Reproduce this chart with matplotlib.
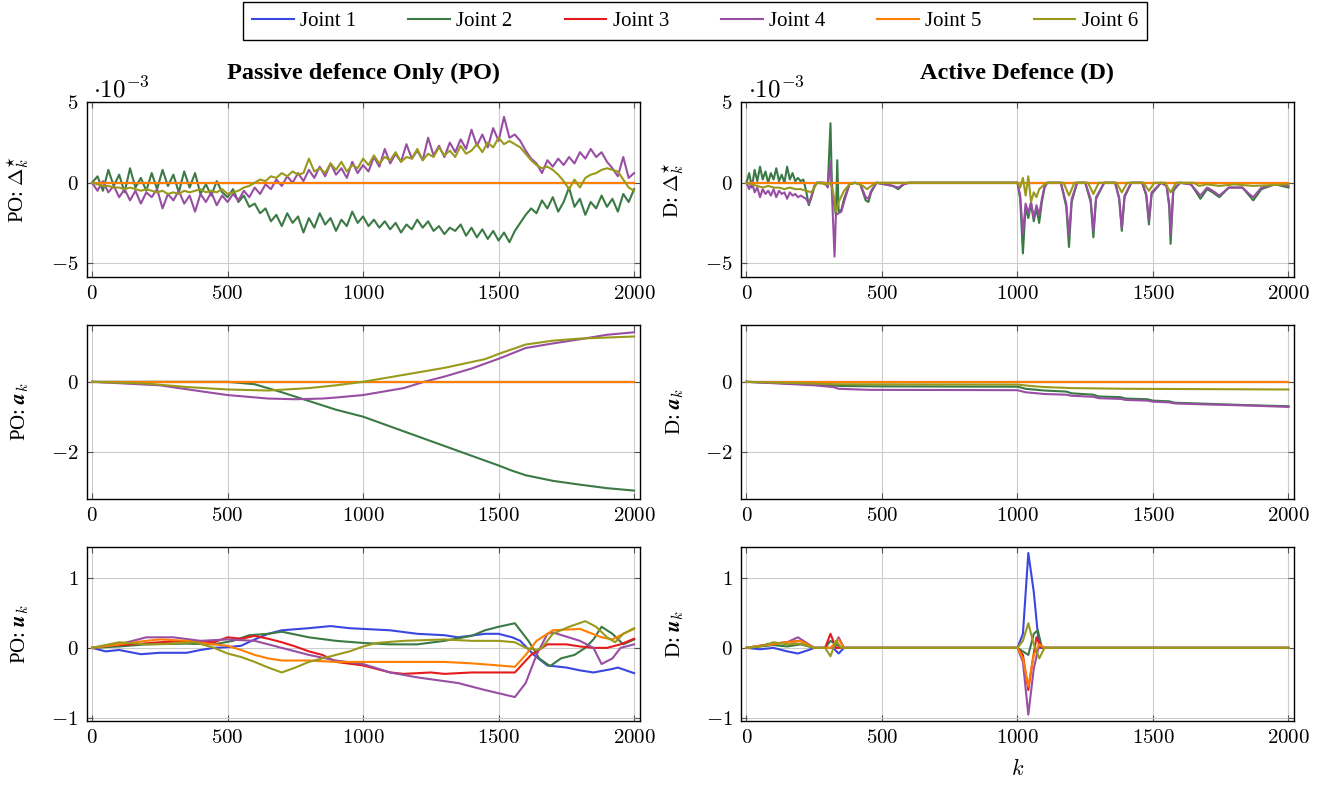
import numpy as np
import matplotlib
matplotlib.use("Agg")
from matplotlib import pyplot as plt
from matplotlib.ticker import FuncFormatter

plt.rcParams['font.family'] = ['Liberation Serif', 'DejaVu Serif']
plt.rcParams['mathtext.fontset'] = 'cm'

joint_names = ['Joint 1', 'Joint 2', 'Joint 3', 'Joint 4', 'Joint 5', 'Joint 6']
joint_colors = ['#3a46e0', '#3b7a45', '#e41a1c', '#984ea3', '#ff7f00', '#999a1c']

# grid of k for the noisy PO delta traces
k_po = list(range(0, 2001, 20))

# PO: Delta*_k  (units of 1e-3)
po_delta_j2 = [0.0, 0.4, -0.5, 0.8, -0.2, 0.5, -0.6, 0.9, -0.3, 0.3,
               -0.5, 0.6, -0.4, 0.8, -0.2, 0.5, -0.6, 0.7, -0.3, 0.6,
               -0.7, -0.1, -0.8, 0.1, -0.6, -0.9, -0.4, -1.2, -0.8, -1.5,
               -1.3, -1.9, -1.6, -2.4, -2.0, -2.7, -1.9, -2.5, -2.1, -3.1,
               -2.2, -2.8, -1.9, -2.6, -2.2, -3.0, -2.3, -2.7, -1.8, -2.5,
               -2.1, -2.7, -2.3, -2.8, -2.4, -2.9, -2.5, -3.1, -2.6, -2.9,
               -2.3, -2.8, -2.4, -3.0, -2.7, -3.2, -2.8, -3.0, -2.6, -3.3,
               -2.8, -3.4, -2.9, -3.5, -3.0, -3.6, -3.1, -3.7, -3.0, -2.5,
               -2.0, -1.6, -1.9, -1.1, -1.6, -0.9, -1.8, -1.2, -0.3, -1.5,
               -1.0, -2.0, -1.2, -1.6, -0.8, -1.5, -1.0, -1.8, -0.7, -1.2,
               -0.4]
po_delta_j4 = [0.0, -0.5, 0.1, -0.6, -0.2, -0.9, -0.4, -1.1, -0.5, -1.3,
               -0.6, -0.9, -0.4, -1.6, -0.7, -1.1, -0.5, -1.3, -0.8, -1.8,
               -0.7, -1.2, -0.6, -1.4, -0.8, -1.2, -0.7, -1.1, -0.5, -0.9,
               -0.3, -0.7, -0.1, -0.4, 0.2, -0.2, 0.4, 0.0, 0.6, 0.1,
               0.8, 0.3, 1.0, 0.4, 1.2, 0.5, 0.9, 0.3, 1.3, 0.6,
               1.1, 0.7, 1.6, 1.0, 2.1, 1.2, 1.8, 1.3, 2.4, 1.5,
               2.0, 1.4, 2.8, 1.7, 2.3, 1.6, 2.5, 1.9, 2.7, 2.1,
               3.3, 2.3, 3.0, 2.2, 3.4, 2.6, 4.1, 2.8, 3.0, 2.6,
               2.0, 1.5, 1.2, 0.6, 1.4, 1.0, 1.5, 1.1, 1.6, 1.2,
               1.9, 1.5, 2.1, 1.6, 1.9, 1.3, 0.9, 0.4, 1.6, 0.3,
               0.6]
po_delta_j6 = [0.0, -0.1, -0.2, -0.2, -0.3, -0.3, -0.4, -0.3, -0.4, -0.5,
               -0.4, -0.5, -0.6, -0.5, -0.7, -0.6, -0.7, -0.5, -0.6, -0.5,
               -0.4, -0.6, -0.5, -0.6, -0.4, -0.7, -0.6, -0.5, -0.3, -0.2,
               0.0, 0.2, 0.1, 0.4, 0.3, 0.6, 0.4, 0.7, 0.5, 0.6,
               1.5, 0.7, 0.9, 0.6, 1.2, 0.8, 1.3, 0.7, 1.1, 0.9,
               1.5, 1.1, 1.7, 1.2, 1.6, 1.4, 1.9, 1.3, 1.6, 1.5,
               2.1, 1.4, 1.8, 1.6, 2.2, 1.7, 2.0, 1.6, 2.3, 1.8,
               2.0, 2.4, 1.9, 2.5, 2.2, 2.8, 2.4, 2.6, 2.4, 2.2,
               1.8, 1.4, 1.1, 0.9, 1.0, 0.8, 0.5, 0.1, -0.4, 0.2,
               -0.3, 0.3, 0.5, 0.6, 0.8, 0.9, 0.8, 0.7, 0.2, -0.3,
               -0.5]

zero_line = [(0, 0.0), (2000, 0.0)]

# D: Delta*_k  (k, value*1e3)
d_delta_j2 = [(0, 0), (10, 0.6), (20, -0.3), (30, 0.8), (40, 0.1), (50, 1.0), (60, 0.2), (70, 0.7),
              (80, 0.0), (90, 0.6), (100, 0.2), (110, 0.9), (120, 0.1), (130, 0.5), (140, 0.0), (150, 1.0),
              (160, 0.2), (170, 0.6), (180, 0.1), (190, 0.3), (200, 0.1), (210, 0.2), (220, -0.5), (230, -1.4),
              (240, -0.9), (250, -0.3), (260, 0.0), (280, 0.0), (300, -0.2), (310, 3.7), (315, 0.0), (320, -1.0),
              (330, -2.0), (335, 1.4), (340, -1.8), (350, -1.7), (360, -1.0), (380, -0.1), (400, 0.0), (420, -0.1),
              (440, -1.1), (450, -1.2), (460, -0.6), (480, 0.0), (540, -0.2), (560, -0.4), (580, -0.1), (600, 0.0),
              (1000, 0.0), (1010, -1.0), (1020, -4.4), (1030, -1.5), (1040, -2.2), (1050, -1.3), (1060, -2.4),
              (1070, -1.6), (1080, -2.5), (1090, -1.2), (1100, -0.3), (1110, 0.0), (1160, 0.0), (1180, -1.5),
              (1190, -4.0), (1200, -1.2), (1220, 0.0), (1250, 0.0), (1270, -1.2), (1280, -3.4), (1290, -1.0),
              (1320, 0.0), (1360, 0.0), (1375, -1.0), (1385, -3.0), (1395, -0.9), (1420, 0.0), (1460, 0.0),
              (1475, -0.8), (1485, -2.6), (1495, -0.7), (1530, 0.0), (1550, -0.2), (1560, -1.5), (1565, -3.8),
              (1575, -0.5), (1600, 0.0), (1640, -0.1), (1660, -0.6), (1675, -1.0), (1700, -0.4), (1720, -0.6),
              (1745, -0.9), (1780, -0.3), (1830, -0.3), (1855, -0.8), (1870, -1.1), (1900, -0.4), (1950, -0.1),
              (2000, -0.3)]
d_delta_j4 = [(0, 0), (10, -0.4), (20, 0.1), (30, -0.6), (40, -0.3), (50, -0.9), (60, -0.4), (70, -0.7),
              (80, -0.5), (90, -0.8), (100, -0.4), (110, -0.9), (120, -0.5), (130, -0.7), (140, -0.6), (150, -1.0),
              (160, -0.6), (170, -0.8), (180, -0.7), (190, -0.9), (200, -0.8), (210, -0.9), (220, -1.0), (230, -1.3),
              (240, -0.8), (250, -0.2), (260, 0.0), (290, 0.0), (300, -0.3), (310, 1.3), (315, -0.5), (325, -4.6),
              (330, -2.0), (340, -1.9), (350, -1.8), (360, -1.2), (380, -0.1), (400, 0.0), (420, -0.1), (440, -0.9),
              (450, -1.0), (460, -0.5), (480, 0.0), (540, -0.2), (560, -0.3), (580, -0.1), (600, 0.0), (1000, 0.0),
              (1010, -0.8), (1020, -3.2), (1030, -1.3), (1040, -1.9), (1050, -1.2), (1060, -2.2), (1070, -1.4),
              (1080, -2.0), (1090, -1.0), (1100, -0.2), (1110, 0), (1160, 0), (1180, -1.3), (1190, -3.3),
              (1200, -1.0), (1220, 0), (1250, 0), (1270, -1.0), (1280, -3.0), (1290, -0.9), (1320, 0), (1360, 0),
              (1375, -0.9), (1385, -2.8), (1395, -0.8), (1420, 0), (1460, 0), (1475, -0.7), (1485, -2.3),
              (1495, -0.6), (1530, 0), (1550, -0.2), (1560, -1.3), (1565, -3.2), (1575, -0.4), (1600, 0),
              (1640, -0.1), (1660, -0.5), (1675, -0.8), (1700, -0.3), (1720, -0.5), (1745, -0.8), (1780, -0.3),
              (1830, -0.3), (1855, -0.7), (1870, -0.9), (1900, -0.3), (1950, -0.1), (2000, -0.2)]
d_delta_j6 = [(0, 0), (20, -0.1), (40, -0.2), (60, -0.3), (80, -0.2), (100, -0.3), (120, -0.3), (140, -0.4),
              (160, -0.3), (180, -0.4), (200, -0.4), (220, -0.5), (240, -0.6), (250, -0.3), (260, 0.0), (300, -0.1),
              (310, 0.0), (320, -0.6), (330, -1.8), (340, -1.2), (360, -0.5), (380, -0.1), (400, 0), (430, -0.2),
              (445, -0.4), (460, -0.2), (480, 0), (1000, 0), (1010, -0.3), (1020, 0.3), (1030, -0.8), (1040, 0.4),
              (1050, -1.2), (1060, -0.6), (1070, -0.9), (1080, -0.4), (1100, -0.1), (1110, 0), (1170, 0),
              (1190, -0.8), (1210, 0), (1260, 0), (1280, -0.7), (1300, 0), (1365, 0), (1385, -0.6), (1405, 0),
              (1465, 0), (1485, -0.5), (1505, 0), (1545, 0), (1565, -0.6), (1585, 0), (1650, 0), (1670, -0.2),
              (1700, -0.1), (1745, -0.2), (1800, -0.1), (1870, -0.2), (2000, -0.1)]

# PO: a_k
po_a_j2 = [(0, 0), (500, 0), (600, -0.07), (700, -0.3), (800, -0.55), (900, -0.8), (1000, -1.0),
           (1100, -1.28), (1200, -1.56), (1300, -1.84), (1400, -2.12), (1500, -2.4), (1550, -2.55),
           (1600, -2.68), (1700, -2.84), (1800, -2.95), (1900, -3.05), (2000, -3.12)]
po_a_j4 = [(0, 0), (250, -0.1), (400, -0.27), (500, -0.38), (650, -0.48), (750, -0.5), (850, -0.48),
           (900, -0.45), (1000, -0.38), (1150, -0.18), (1225, 0.0), (1300, 0.15), (1400, 0.38), (1500, 0.66),
           (1600, 0.97), (1700, 1.1), (1800, 1.22), (1900, 1.35), (2000, 1.42)]
po_a_j6 = [(0, 0), (200, -0.05), (350, -0.15), (500, -0.22), (650, -0.25), (800, -0.18), (900, -0.1),
           (1000, 0.0), (1150, 0.2), (1300, 0.4), (1450, 0.65), (1500, 0.8), (1600, 1.07), (1700, 1.18),
           (1800, 1.24), (1900, 1.27), (2000, 1.3)]

# D: a_k
d_a_j2 = [(0, 0), (100, -0.03), (250, -0.08), (300, -0.1), (350, -0.12), (500, -0.13), (1000, -0.14),
          (1030, -0.2), (1100, -0.25), (1180, -0.28), (1200, -0.33), (1280, -0.37), (1300, -0.42),
          (1380, -0.44), (1400, -0.48), (1480, -0.5), (1500, -0.54), (1560, -0.56), (1580, -0.6),
          (1700, -0.63), (1850, -0.67), (2000, -0.7)]
d_a_j4 = [(0, 0), (100, -0.04), (250, -0.1), (320, -0.15), (340, -0.2), (450, -0.23), (1000, -0.24),
          (1030, -0.3), (1100, -0.35), (1180, -0.37), (1200, -0.4), (1280, -0.43), (1300, -0.47),
          (1380, -0.49), (1400, -0.52), (1480, -0.54), (1500, -0.57), (1560, -0.59), (1580, -0.62),
          (1700, -0.65), (1850, -0.68), (2000, -0.72)]
d_a_j6 = [(0, 0), (250, -0.05), (330, -0.07), (1000, -0.08), (1050, -0.12), (1100, -0.15), (1200, -0.18),
          (1400, -0.2), (2000, -0.22)]

# PO: u_k
po_u_j1 = [(0, 0), (50, -0.05), (100, -0.03), (180, -0.09), (250, -0.07), (350, -0.07), (400, -0.03),
           (450, 0.0), (500, 0.01), (550, 0.03), (600, 0.12), (650, 0.2), (700, 0.25), (800, 0.28),
           (880, 0.31), (950, 0.28), (1000, 0.27), (1100, 0.25), (1200, 0.2), (1300, 0.18), (1350, 0.15),
           (1450, 0.2), (1500, 0.2), (1550, 0.15), (1580, 0.1), (1630, -0.1), (1680, -0.25), (1750, -0.28),
           (1800, -0.32), (1850, -0.35), (1920, -0.3), (1940, -0.28), (2000, -0.36)]
po_u_j2 = [(0, 0), (100, 0.02), (200, 0.05), (350, 0.06), (450, 0.05), (520, 0.1), (580, 0.18), (650, 0.2),
           (700, 0.23), (800, 0.15), (900, 0.1), (1000, 0.07), (1100, 0.05), (1200, 0.05), (1300, 0.1),
           (1400, 0.17), (1450, 0.25), (1500, 0.3), (1560, 0.35), (1610, 0.1), (1650, -0.15), (1690, -0.26),
           (1730, -0.15), (1780, -0.1), (1820, 0.0), (1850, 0.12), (1880, 0.3), (1920, 0.2), (1960, 0.05),
           (2000, 0.12)]
po_u_j3 = [(0, 0), (50, 0.03), (150, 0.05), (250, 0.08), (350, 0.1), (450, 0.08), (500, 0.15), (550, 0.13),
           (600, 0.17), (650, 0.13), (700, 0.08), (750, 0.02), (800, -0.05), (850, -0.1), (900, -0.2),
           (1000, -0.25), (1100, -0.35), (1150, -0.37), (1250, -0.35), (1300, -0.37), (1400, -0.35),
           (1500, -0.35), (1560, -0.35), (1620, -0.1), (1680, 0.05), (1750, 0.05), (1800, 0.02), (1850, 0.0),
           (1900, 0.0), (1950, 0.05), (2000, 0.13)]
po_u_j4 = [(0, 0), (100, 0.05), (200, 0.15), (300, 0.15), (400, 0.1), (500, 0.12), (600, 0.1), (700, 0.0),
           (800, -0.1), (900, -0.18), (1000, -0.23), (1100, -0.35), (1200, -0.42), (1350, -0.5), (1450, -0.6),
           (1560, -0.7), (1600, -0.5), (1640, -0.1), (1680, 0.2), (1700, 0.22), (1800, 0.1), (1850, 0.0),
           (1880, -0.23), (1920, -0.15), (1950, 0.0), (2000, 0.05)]
po_u_j5 = [(0, 0), (100, 0.05), (200, 0.1), (250, 0.12), (350, 0.1), (400, 0.07), (450, 0.05), (500, 0.03),
           (550, -0.03), (600, -0.1), (650, -0.15), (700, -0.18), (800, -0.18), (900, -0.2), (1000, -0.2),
           (1300, -0.2), (1400, -0.22), (1500, -0.25), (1560, -0.27), (1600, -0.1), (1640, 0.1), (1680, 0.2),
           (1700, 0.25), (1800, 0.27), (1880, 0.15), (1920, 0.12), (1960, 0.2), (2000, 0.27)]
po_u_j6 = [(0, 0), (100, 0.08), (200, 0.05), (300, 0.06), (380, 0.08), (450, 0.0), (500, -0.08),
           (550, -0.13), (600, -0.2), (650, -0.28), (700, -0.35), (750, -0.28), (800, -0.2), (900, -0.1),
           (950, -0.05), (1000, 0.02), (1050, 0.07), (1150, 0.1), (1300, 0.12), (1400, 0.1), (1500, 0.1),
           (1560, 0.08), (1600, 0.0), (1640, -0.03), (1660, 0.0), (1700, 0.2), (1760, 0.3), (1820, 0.38),
           (1860, 0.3), (1900, 0.15), (1930, 0.08), (1960, 0.2), (2000, 0.28)]

# D: u_k
d_u_j1 = [(0, 0), (50, -0.02), (100, 0.0), (150, -0.05), (190, -0.08), (230, -0.03), (250, 0), (320, 0),
          (340, -0.08), (360, 0), (1000, 0), (1020, 0.2), (1040, 1.35), (1060, 0.8), (1080, 0.0), (2000, 0)]
d_u_j2 = [(0, 0), (100, 0.04), (150, 0.02), (200, 0.05), (250, 0), (290, 0), (310, 0.1), (330, 0.05),
          (350, 0), (1000, 0), (1020, -0.05), (1040, -0.1), (1060, 0.2), (1075, 0.25), (1090, 0.0), (2000, 0)]
d_u_j3 = [(0, 0), (50, 0.03), (100, 0.06), (150, 0.08), (200, 0.1), (250, 0), (290, 0), (310, 0.2),
          (330, 0.0), (1000, 0), (1020, -0.1), (1040, -0.6), (1055, -0.2), (1070, 0.15), (1090, 0.0), (2000, 0)]
d_u_j4 = [(0, 0), (50, 0.03), (100, 0.06), (150, 0.08), (190, 0.15), (230, 0.05), (250, 0), (320, 0),
          (340, 0.15), (360, 0), (1000, 0), (1020, -0.2), (1040, -0.95), (1060, -0.3), (1080, 0.05),
          (1100, 0), (2000, 0)]
d_u_j5 = [(0, 0), (50, 0.03), (100, 0.05), (150, 0.08), (200, 0.1), (250, 0), (310, 0), (340, 0.12),
          (360, 0), (1000, 0), (1020, -0.15), (1040, -0.55), (1060, -0.1), (1080, 0.05), (1100, 0), (2000, 0)]
d_u_j6 = [(0, 0), (50, 0.02), (100, 0.08), (150, 0.05), (200, 0.06), (250, 0), (290, 0), (310, -0.12),
          (330, 0.1), (350, 0), (1000, 0), (1020, 0.1), (1040, 0.35), (1060, 0.05), (1080, -0.15),
          (1100, 0), (2000, 0)]

po_delta = [zero_line, list(zip(k_po, po_delta_j2)), zero_line,
            list(zip(k_po, po_delta_j4)), zero_line, list(zip(k_po, po_delta_j6))]
d_delta = [zero_line, d_delta_j2, zero_line, d_delta_j4, zero_line, d_delta_j6]
po_a = [zero_line, po_a_j2, zero_line, po_a_j4, zero_line, po_a_j6]
d_a = [zero_line, d_a_j2, zero_line, d_a_j4, zero_line, d_a_j6]
po_u = [po_u_j1, po_u_j2, po_u_j3, po_u_j4, po_u_j5, po_u_j6]
d_u = [d_u_j1, d_u_j2, d_u_j3, d_u_j4, d_u_j5, d_u_j6]

panels = [[po_delta, d_delta], [po_a, d_a], [po_u, d_u]]
ylabels = [r'$\mathbf{\Delta}^{\star}_k$', r'$\boldsymbol{a}_k$', r'$\boldsymbol{u}_k$']
ylims = [(-5.85, 5.0), (-3.36, 1.64), (-1.04, 1.44)]
yticks = [[-5, 0, 5], [-2, 0], [-1, 0, 1]]
prefix = ['PO: ', 'D: ']
titles = ['Passive defence Only (PO)', 'Active Defence (D)']

fig = plt.figure(figsize=(13.29, 7.87), dpi=100)
lefts = [0.0652, 0.5576]
width = 0.4160
bottoms = [0.6484, 0.366, 0.0839]
height = 0.2215

fmt = FuncFormatter(lambda v, p: r'$%g$' % v)
lines = []
for r in range(3):
    for c in range(2):
        ax = fig.add_axes([lefts[c], bottoms[r], width, height])
        for j, series in enumerate(panels[r][c]):
            kk = [p[0] for p in series]
            vv = [p[1] for p in series]
            ln, = ax.plot(kk, vv, color=joint_colors[j], lw=1.5, label=joint_names[j])
            if r == 0 and c == 0:
                lines.append(ln)
        ax.set_xlim(-20, 2020)
        ax.set_ylim(*ylims[r])
        ax.set_xticks([0, 500, 1000, 1500, 2000])
        ax.set_yticks(yticks[r])
        ax.xaxis.set_major_formatter(fmt)
        ax.yaxis.set_major_formatter(fmt)
        ax.grid(True, color='#cccccc', lw=0.8)
        ax.set_axisbelow(True)
        ax.tick_params(direction='in', length=4, top=True, right=True, labelsize=15,
                       color='#555555', pad=6)
        for s in ax.spines.values():
            s.set_linewidth(1.0)
        ax.set_ylabel(prefix[c] + ylabels[r], fontsize=15)
        ax.yaxis.set_label_coords(-0.1, 0.5)
        if r == 0:
            ax.set_title(titles[c], fontsize=17.5, fontweight='bold', pad=17)
            ax.text(0.012, 1.0, r'$\cdot 10^{-3}$', transform=ax.transAxes,
                    fontsize=18, ha='left', va='bottom')
        if r == 2 and c == 1:
            ax.set_xlabel(r'$k$', fontsize=16, labelpad=8)

fig.legend(handles=lines, loc='center', bbox_to_anchor=(0.523, 0.973), ncol=6,
           fontsize=15, frameon=True, fancybox=False, edgecolor='black', framealpha=1,
           handlelength=2.0, columnspacing=2.5, handletextpad=0.3, borderpad=0.45)

fig.savefig('out.png', dpi=100)
